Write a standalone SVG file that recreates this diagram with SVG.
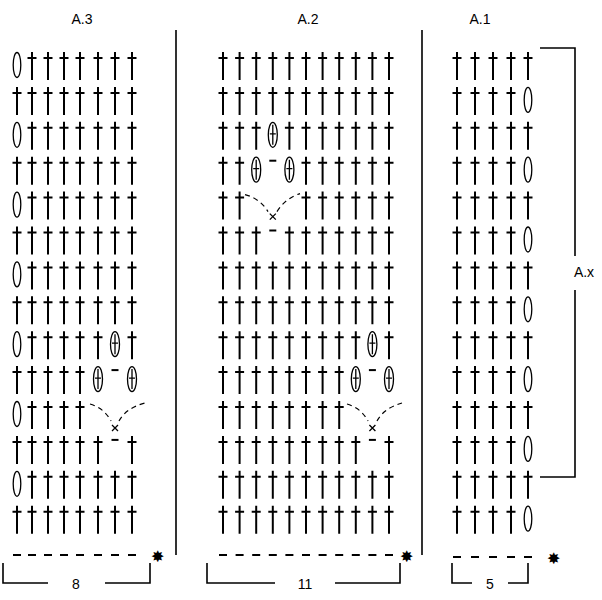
<svg xmlns="http://www.w3.org/2000/svg" xmlns:xlink="http://www.w3.org/1999/xlink" width="602" height="600" viewBox="0 0 602 600">
<style>
.t{font-family:"Liberation Sans",Arial,sans-serif;font-size:14px;fill:#000000;text-anchor:middle}
.ln{stroke:#000;stroke-width:1.6;fill:none}
.st{stroke:#000;stroke-width:2;fill:none}
.th{stroke:#000;stroke-width:1.3;fill:none}
.dv{stroke:#000;stroke-width:1.2;fill:none;stroke-dasharray:5 4}
</style>
<defs>
<path id="c" class="st" d="M0,0V28M-4.5,6H4.5"/>
<ellipse id="o" class="th" cx="0" cy="13" rx="3.8" ry="12.5"/>
<g id="oc"><ellipse class="th" cx="0" cy="13" rx="4.5" ry="12.5"/><path class="th" d="M0,3V23M-3,12H3"/></g>
<path id="d" class="st" d="M-3.5,0H3.5"/>
<path id="x" class="th" d="M-3,-3L3,3M-3,3L3,-3"/>
<g id="a3f"><use href="#c" x="17"/><use href="#c" x="32"/><use href="#c" x="48"/><use href="#c" x="64"/><use href="#c" x="80"/><use href="#c" x="98"/><use href="#c" x="115"/><use href="#c" x="132"/></g>
<g id="a3o"><use href="#o" x="17"/><use href="#c" x="32"/><use href="#c" x="48"/><use href="#c" x="64"/><use href="#c" x="80"/><use href="#c" x="98"/><use href="#c" x="115"/><use href="#c" x="132"/></g>
<g id="a2f"><use href="#c" x="223"/><use href="#c" x="239.6"/><use href="#c" x="256.2"/><use href="#c" x="272.8"/><use href="#c" x="289.4"/><use href="#c" x="306"/><use href="#c" x="322.6"/><use href="#c" x="339.2"/><use href="#c" x="355.8"/><use href="#c" x="372.4"/><use href="#c" x="389"/></g>
<g id="a1f"><use href="#c" x="457"/><use href="#c" x="475"/><use href="#c" x="493"/><use href="#c" x="511"/><use href="#c" x="528"/></g>
<g id="a1o"><use href="#c" x="457"/><use href="#c" x="475"/><use href="#c" x="493"/><use href="#c" x="511"/><use href="#o" x="528"/></g>
</defs>
<rect width="602" height="600" fill="#fff"/>
<text class="t" x="82" y="24">A.3</text>
<text class="t" x="308" y="24">A.2</text>
<text class="t" x="480" y="24">A.1</text>
<g id="connectors">
<path class="ln" d="M176,30V555M422,30V555"/>
<path class="ln" d="M540,48H575V256M575,290V477H540"/>
<path class="ln" d="M3,563V583H48M105,583H150V563"/>
<path class="ln" d="M207,563V583H275M335,583H400V563"/>
<path class="ln" d="M452,563V583H472M508,583H528V563"/>
</g>
<text class="t" x="584" y="277">A.x</text>
<text class="t" x="76" y="589">8</text>
<text class="t" x="305" y="589">11</text>
<text class="t" x="490" y="589">5</text>
<g id="A3">
<use href="#a3o" y="52"/><use href="#a3f" y="86.9"/><use href="#a3o" y="121.8"/><use href="#a3f" y="156.7"/><use href="#a3o" y="191.6"/><use href="#a3f" y="226.5"/><use href="#a3o" y="261.4"/><use href="#a3f" y="296.3"/>
<g transform="translate(0,331.2)"><use href="#o" x="17"/><use href="#c" x="32"/><use href="#c" x="48"/><use href="#c" x="64"/><use href="#c" x="80"/><use href="#c" x="98"/><use href="#oc" x="115"/><use href="#c" x="132"/></g>
<g transform="translate(0,366.1)"><use href="#c" x="17"/><use href="#c" x="32"/><use href="#c" x="48"/><use href="#c" x="64"/><use href="#c" x="80"/><use href="#oc" x="98"/><use href="#d" x="115" y="4"/><use href="#oc" x="132"/></g>
<g transform="translate(0,401)"><use href="#o" x="17"/><use href="#c" x="32"/><use href="#c" x="48"/><use href="#c" x="64"/><use href="#c" x="80"/><path class="dv" d="M90,3Q104,7 111,20M119,20Q126,7 145,2"/><use href="#x" x="115" y="27"/></g>
<g transform="translate(0,435.9)"><use href="#c" x="17"/><use href="#c" x="32"/><use href="#c" x="48"/><use href="#c" x="64"/><use href="#c" x="80"/><use href="#c" x="98"/><use href="#d" x="115" y="4"/><use href="#c" x="132"/></g>
<use href="#a3o" y="470.8"/><use href="#a3f" y="505.7"/>
<path class="st" d="M13,555h8M28,555h8M44,555h8M60,555h8M76,555h8M94,555h8M111,555h8M128,555h8"/>
<text class="t" x="157" y="562" style="font-size:16px">✸</text>
</g>
<g id="A2">
<use href="#a2f" y="52"/><use href="#a2f" y="86.9"/>
<g transform="translate(0,121.8)"><use href="#c" x="223"/><use href="#c" x="239.6"/><use href="#c" x="256.2"/><use href="#oc" x="272.8"/><use href="#c" x="289.4"/><use href="#c" x="306"/><use href="#c" x="322.6"/><use href="#c" x="339.2"/><use href="#c" x="355.8"/><use href="#c" x="372.4"/><use href="#c" x="389"/></g>
<g transform="translate(0,156.7)"><use href="#c" x="223"/><use href="#c" x="239.6"/><use href="#oc" x="256.2"/><use href="#d" x="272.8" y="4"/><use href="#oc" x="289.4"/><use href="#c" x="306"/><use href="#c" x="322.6"/><use href="#c" x="339.2"/><use href="#c" x="355.8"/><use href="#c" x="372.4"/><use href="#c" x="389"/></g>
<g transform="translate(0,191.6)"><use href="#c" x="223"/><use href="#c" x="239.6"/><path class="dv" d="M245,3Q260,7 268,20M277,20Q285,7 300,2"/><use href="#x" x="272.8" y="25"/><use href="#c" x="306"/><use href="#c" x="322.6"/><use href="#c" x="339.2"/><use href="#c" x="355.8"/><use href="#c" x="372.4"/><use href="#c" x="389"/></g>
<g transform="translate(0,226.5)"><use href="#c" x="223"/><use href="#c" x="239.6"/><use href="#c" x="256.2"/><use href="#d" x="272.8" y="4"/><use href="#c" x="289.4"/><use href="#c" x="306"/><use href="#c" x="322.6"/><use href="#c" x="339.2"/><use href="#c" x="355.8"/><use href="#c" x="372.4"/><use href="#c" x="389"/></g>
<use href="#a2f" y="261.4"/><use href="#a2f" y="296.3"/>
<g transform="translate(0,331.2)"><use href="#c" x="223"/><use href="#c" x="239.6"/><use href="#c" x="256.2"/><use href="#c" x="272.8"/><use href="#c" x="289.4"/><use href="#c" x="306"/><use href="#c" x="322.6"/><use href="#c" x="339.2"/><use href="#c" x="355.8"/><use href="#oc" x="372.4"/><use href="#c" x="389"/></g>
<g transform="translate(0,366.1)"><use href="#c" x="223"/><use href="#c" x="239.6"/><use href="#c" x="256.2"/><use href="#c" x="272.8"/><use href="#c" x="289.4"/><use href="#c" x="306"/><use href="#c" x="322.6"/><use href="#c" x="339.2"/><use href="#oc" x="355.8"/><use href="#d" x="372.4" y="4"/><use href="#oc" x="389"/></g>
<g transform="translate(0,401)"><use href="#c" x="223"/><use href="#c" x="239.6"/><use href="#c" x="256.2"/><use href="#c" x="272.8"/><use href="#c" x="289.4"/><use href="#c" x="306"/><use href="#c" x="322.6"/><use href="#c" x="339.2"/><path class="dv" d="M347,3Q361,7 368,20M377,20Q384,7 402,2"/><use href="#x" x="372.4" y="27"/></g>
<g transform="translate(0,435.9)"><use href="#c" x="223"/><use href="#c" x="239.6"/><use href="#c" x="256.2"/><use href="#c" x="272.8"/><use href="#c" x="289.4"/><use href="#c" x="306"/><use href="#c" x="322.6"/><use href="#c" x="339.2"/><use href="#c" x="355.8"/><use href="#d" x="372.4" y="4"/><use href="#c" x="389"/></g>
<use href="#a2f" y="470.8"/><use href="#a2f" y="505.7"/>
<path class="st" d="M219,555h8M235.6,555h8M252.2,555h8M268.8,555h8M285.4,555h8M302,555h8M318.6,555h8M335.2,555h8M351.8,555h8M368.4,555h8M385,555h8"/>
<text class="t" x="406" y="562" style="font-size:16px">✸</text>
</g>
<g id="A1">
<use href="#a1f" y="52"/><use href="#a1o" y="86.9"/><use href="#a1f" y="121.8"/><use href="#a1o" y="156.7"/><use href="#a1f" y="191.6"/><use href="#a1o" y="226.5"/><use href="#a1f" y="261.4"/><use href="#a1o" y="296.3"/><use href="#a1f" y="331.2"/><use href="#a1o" y="366.1"/><use href="#a1f" y="401"/><use href="#a1o" y="435.9"/><use href="#a1f" y="470.8"/><use href="#a1o" y="505.7"/>
<path class="st" d="M453,557h8M471,557h8M489,557h8M507,557h8M524,557h8"/>
<text class="t" x="553" y="564" style="font-size:16px">✸</text>
</g>
</svg>
